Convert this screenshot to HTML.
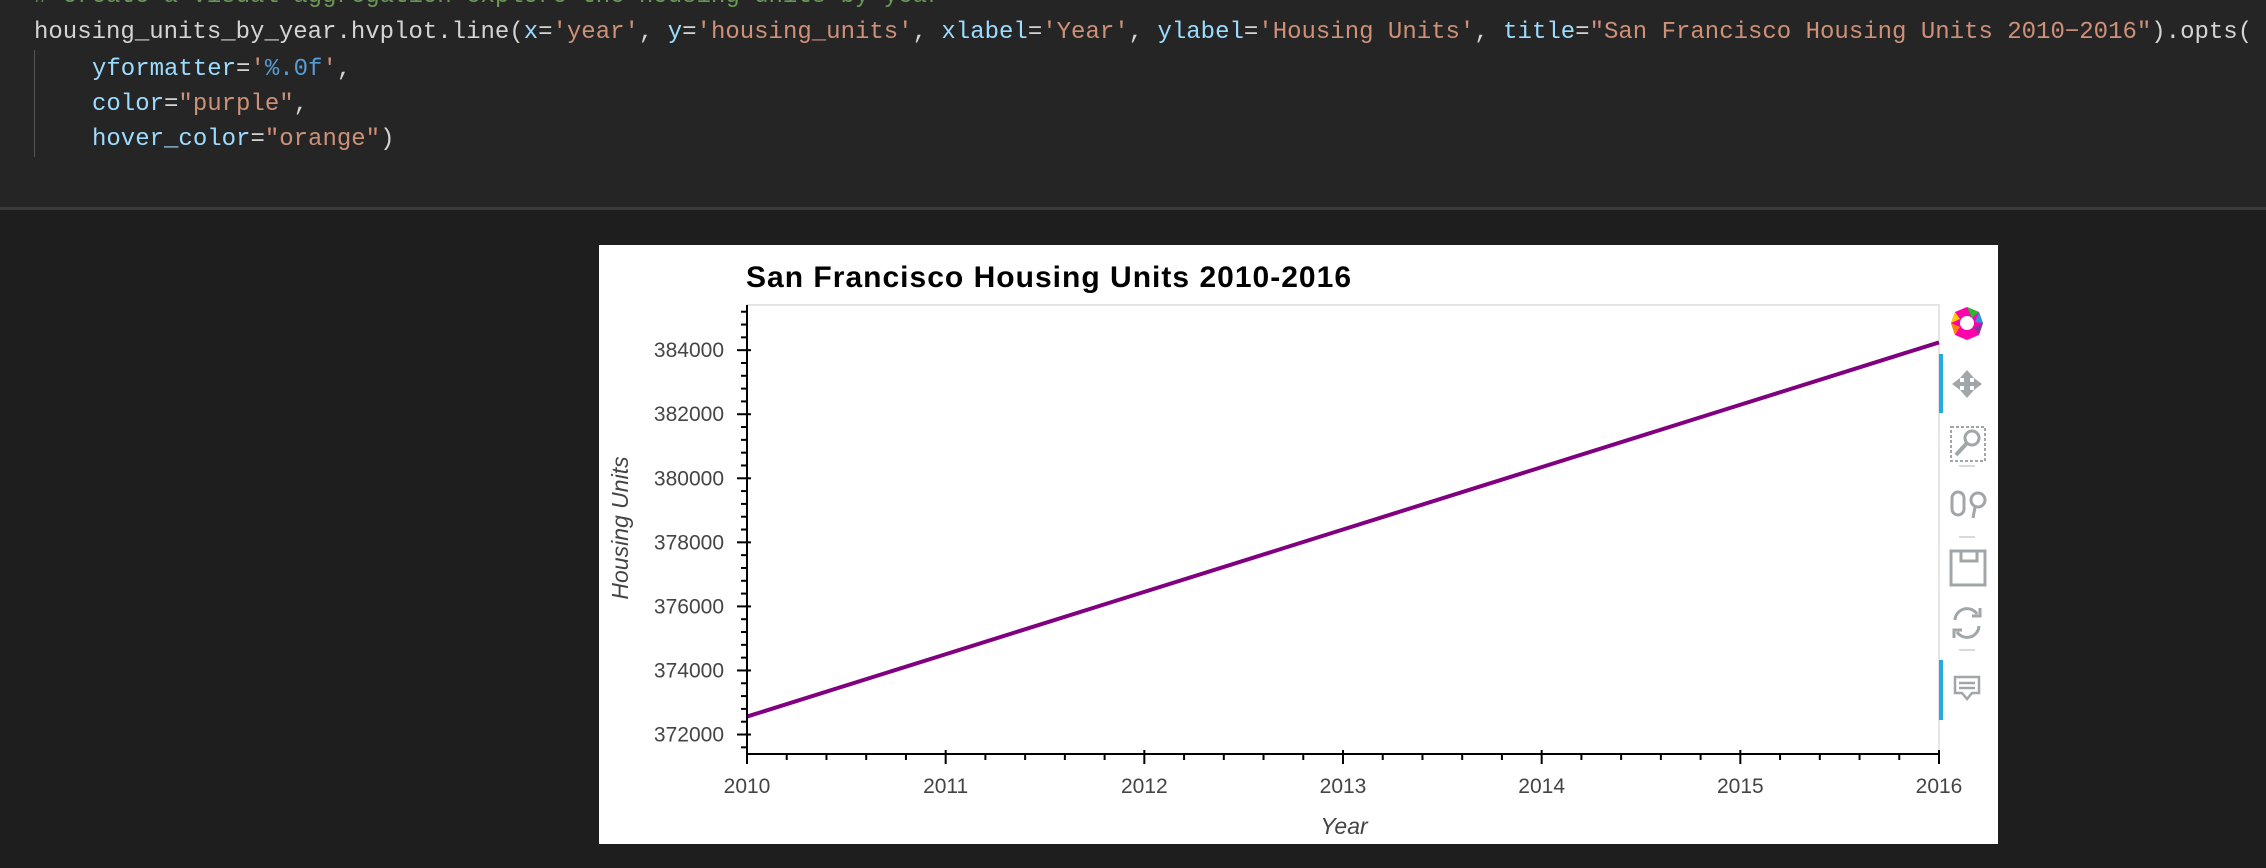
<!DOCTYPE html>
<html><head><meta charset="utf-8"><style>
html,body{margin:0;padding:0;width:2266px;height:868px;overflow:hidden;background:#1e1e1e;}
#code{position:absolute;left:0;top:0;width:2266px;height:207px;background:#252526;font-family:"Liberation Mono",monospace;font-size:24px;white-space:pre;color:#d4d4d4;}
#code .ln{position:absolute;left:34px;height:35px;line-height:35px;}
.k{color:#9cdcfe}.s{color:#ce9178}.b{color:#569cd6}.c{color:#6a9955}
#sep{position:absolute;left:0;top:207px;width:2266px;height:3px;background:#3a3a3c;}
#guide{position:absolute;left:34px;top:50px;width:1px;height:107px;background:#555;}
#panel{position:absolute;left:599px;top:245px;width:1399px;height:599px;background:#fff;}
svg{position:absolute;left:0;top:0;}
</style></head><body>
<div id="code">
<div class="ln c" style="top:-21px"># create a visual aggregation explore the housing units by year</div>
<div class="ln" style="top:15px">housing_units_by_year.hvplot.line(<span class="k">x</span>=<span class="s">'year'</span>, <span class="k">y</span>=<span class="s">'housing_units'</span>, <span class="k">xlabel</span>=<span class="s">'Year'</span>, <span class="k">ylabel</span>=<span class="s">'Housing Units'</span>, <span class="k">title</span>=<span class="s">"San Francisco Housing Units 2010−2016"</span>).opts(</div>
<div class="ln" style="top:52px;left:92px"><span class="k">yformatter</span>=<span class="s">'</span><span class="b">%.0f</span><span class="s">'</span>,</div>
<div class="ln" style="top:87px;left:92px"><span class="k">color</span>=<span class="s">"purple"</span>,</div>
<div class="ln" style="top:122px;left:92px"><span class="k">hover_color</span>=<span class="s">"orange"</span>)</div>
<div id="guide"></div>
</div>
<div id="sep"></div>
<div id="panel"></div>
<svg id="chart" width="2266" height="868" font-family="Liberation Sans, sans-serif"></svg>
<script>
const years = [2010, 2011, 2012, 2013, 2014, 2015, 2016];
const housingUnits = [372560, 374507, 376454, 378401, 380348, 382295, 384242];
const yTickValues = [372000, 374000, 376000, 378000, 380000, 382000, 384000];
const xTickValues = [2010, 2011, 2012, 2013, 2014, 2015, 2016];

const svg = document.getElementById('chart');
const NS = 'http://www.w3.org/2000/svg';
const L = 747, R = 1939, T = 305, B = 754;
const xmin = Math.min(...years), xmax = Math.max(...years);
const dmin = Math.min(...housingUnits), dmax = Math.max(...housingUnits);
const pad = (dmax - dmin) * 0.1;
const ymin = dmin - pad, ymax = dmax + pad;
const xs = v => L + (v - xmin) / (xmax - xmin) * (R - L);
const ys = v => B - (v - ymin) / (ymax - ymin) * (B - T);
function mk(tag, attrs, parent) {
  const e = document.createElementNS(NS, tag);
  for (const k in attrs) e.setAttribute(k, attrs[k]);
  (parent || svg).appendChild(e);
  return e;
}
// frame
let fr = mk('rect', {x: L, y: T, width: R - L, height: B - T, fill: 'none', stroke: '#e5e5e5', 'stroke-width': 2});


// title
let tt = mk('text', {x: 746, y: 287, 'font-size': 30, 'font-weight': 'bold', fill: '#000', textLength: 605});
tt.textContent = 'San Francisco Housing Units 2010-2016';


// line
let pts = years.map((y, i) => xs(y) + ',' + ys(housingUnits[i])).join(' ');
let ln = mk('polyline', {points: pts, fill: 'none', stroke: '#800080', 'stroke-width': 4});


// axes
let ya = mk('line', {x1: L, y1: T, x2: L, y2: B + 1, stroke: '#000', 'stroke-width': 2});


let xa = mk('line', {x1: L - 1, y1: B, x2: R, y2: B, stroke: '#000', 'stroke-width': 2});


// y ticks
const ystep = yTickValues[1] - yTickValues[0];
for (let v = Math.ceil(ymin / (ystep / 5)) * (ystep / 5); v <= ymax; v += ystep / 5) {
  const major = Math.abs(v / ystep - Math.round(v / ystep)) < 1e-6;
  const y = ys(v);
  let t = mk('line', {x1: L - (major ? 10 : 6), y1: y, x2: L + (major ? 4 : 0), y2: y, stroke: '#000', 'stroke-width': 2});
  
  
}
yTickValues.forEach(v => {
  let t = mk('text', {x: 724, y: ys(v) + 7, 'font-size': 21, fill: '#444', 'text-anchor': 'end'});
  t.textContent = String(v);
  
  
});
// x ticks
for (let i = 0; i <= (xmax - xmin) * 5; i++) {
  const v = xmin + i / 5;
  const major = i % 5 === 0;
  const x = xs(v);
  let t = mk('line', {x1: x, y1: B - (major ? 4 : 0), x2: x, y2: B + (major ? 10 : 6), stroke: '#000', 'stroke-width': 2});
  
  
}
xTickValues.forEach(v => {
  let t = mk('text', {x: xs(v), y: 793, 'font-size': 21, fill: '#444', 'text-anchor': 'middle'});
  t.textContent = String(v);
  
  
});
let xt = mk('text', {x: 1344, y: 834, 'font-size': 23, 'font-style': 'italic', fill: '#444', 'text-anchor': 'middle'});
xt.textContent = 'Year';


let yt = mk('text', {x: 0, y: 0, 'font-size': 23, 'font-style': 'italic', fill: '#444', 'text-anchor': 'middle', transform: 'translate(628,528) rotate(-90)'});
yt.textContent = 'Housing Units';


</script>
<svg width="2266" height="868" style="pointer-events:none">
  <g>
    <circle cx="1967" cy="323" r="16" fill="none" stroke="#e84" stroke-width="0"/>
    <path d="M1967 307 L1979 312 L1983 323 L1979 335 L1967 340 L1955 335 L1951 323 L1955 312Z" fill="#f0a"/>
    <path d="M1967 307 L1979 312 L1972 318Z" fill="#2b3"/>
    <path d="M1979 312 L1983 323 L1975 322Z" fill="#29d"/>
    <path d="M1983 323 L1979 335 L1974 328Z" fill="#839"/>
    <path d="M1955 335 L1951 323 L1960 327Z" fill="#f80"/>
    <path d="M1951 323 L1955 312 L1960 319Z" fill="#fc0"/>
    <circle cx="1967" cy="323" r="7" fill="#fff"/>
  </g>
  <rect x="1939" y="354" width="4" height="59" fill="#26aae1"/>
  <g fill="#a1a6a9">
    <path d="M1967 370 l7 8 h-4 v4 h4 v-4 l8 6 -8 6 v-4 h-4 v4 h4 l-7 8 -7 -8 h4 v-4 h-4 v4 l-8 -6 8 -6 v4 h4 v-4 h-4z"/>
  </g>
  <g fill="none" stroke="#a1a6a9">
    <rect x="1951" y="427" width="34" height="34" stroke-dasharray="3,2" stroke-width="2"/>
    <circle cx="1972" cy="438" r="7" stroke-width="3"/>
    <line x1="1967" y1="443" x2="1956" y2="455" stroke-width="4"/>
  </g>
  <line x1="1959" y1="466" x2="1975" y2="466" stroke="#ccc" stroke-width="1.5"/>
  <g fill="none" stroke="#a1a6a9" stroke-width="3">
    <rect x="1952" y="492" width="12" height="23" rx="6"/>
    <circle cx="1978" cy="500" r="7"/>
    <line x1="1975" y1="507" x2="1973" y2="518"/>
  </g>
  <line x1="1959" y1="537" x2="1975" y2="537" stroke="#ccc" stroke-width="1.5"/>
  <g fill="none" stroke="#a1a6a9" stroke-width="3">
    <rect x="1951" y="551" width="34" height="34"/>
    <path d="M1961 551 v10 h16 v-10"/>
  </g>
  <g fill="none" stroke="#a1a6a9" stroke-width="3">
    <path d="M1955 620 a12 12 0 0 1 22 -6"/>
    <path d="M1979 626 a12 12 0 0 1 -22 6"/>
    <path d="M1980 608 v8 h-8" />
    <path d="M1954 638 v-8 h8"/>
  </g>
  <line x1="1959" y1="650" x2="1975" y2="650" stroke="#ccc" stroke-width="1.5"/>
  <rect x="1939" y="660" width="4" height="60" fill="#26aae1"/>
  <g fill="none" stroke="#a1a6a9" stroke-width="2.5">
    <path d="M1955 677 h24 v16 h-7 l-5 6 -5 -6 h-7z"/>
    <line x1="1959" y1="683" x2="1975" y2="683"/>
    <line x1="1959" y1="688" x2="1975" y2="688"/>
  </g>
</svg>
</body></html>
